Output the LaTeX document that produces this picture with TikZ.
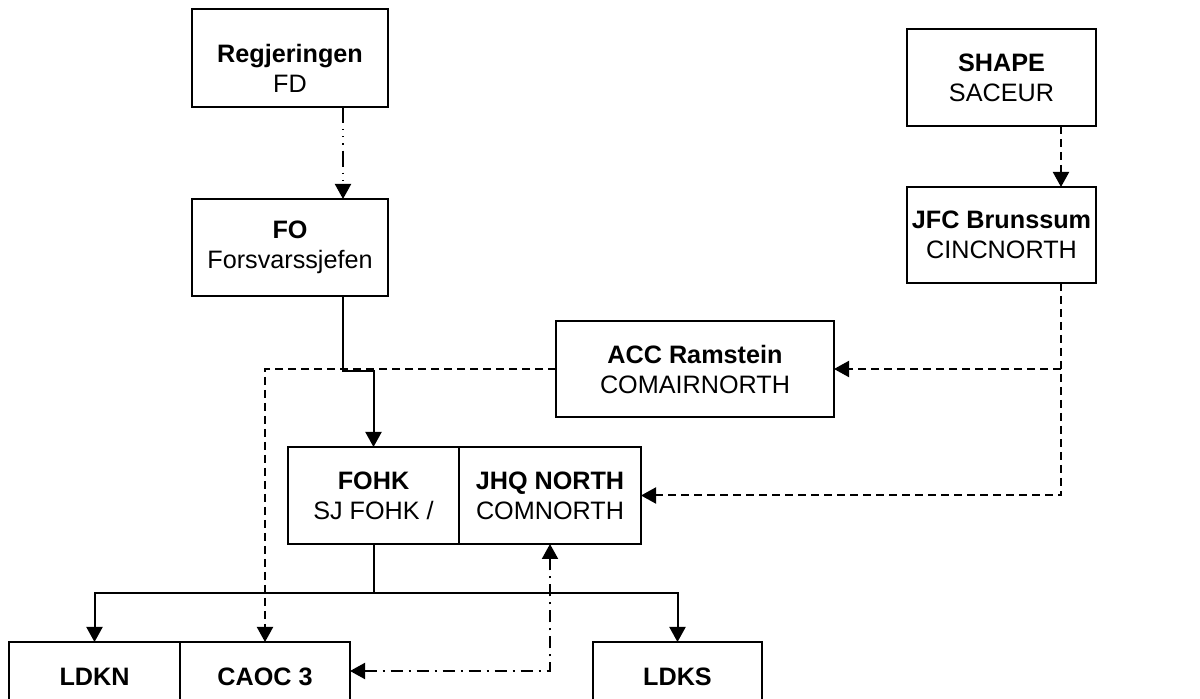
\documentclass[tikz,border=0pt]{standalone}
\usepackage{fontspec}
\setmainfont{Liberation Sans}
\usetikzlibrary{positioning}
\usetikzlibrary{arrows.meta}
\tikzset{
    x=0.5pt, y=-0.5pt, % One unit per pixel, y pointing down
    unit/.style={ % Sets the properties for each box of the chart
        draw,
        rectangle,
        line width=1pt,
        align=center,
        inner sep=0pt,
        outer sep=0pt % Neighbouring boxes share one border
    },
    >={Triangle[width=8pt,length=7.5pt]}, % Filled arrowheads
    cmdlink/.style={draw, line width=1pt, ->}, % Full command
    natolink/.style={cmdlink, dash pattern=on 4pt off 2.5pt}, % NATO line
    govlink/.style={cmdlink, dash pattern=on 8pt off 3pt on 0.6pt off 3pt on 0.6pt off 3pt on 0.6pt off 3pt},
    taclink/.style={cmdlink, <->, dash pattern=on 6pt off 3pt on 1pt off 3pt}
}

\begin{document}
\begin{tikzpicture}[font=\fontsize{12.6}{15}\selectfont]
    \useasboundingbox (0,0) rectangle (1200,699);

    \node[unit, minimum width=98pt, minimum height=49pt,
          label={[align=center, yshift=-5pt]center:\textbf{Regjeringen}\\FD}] (reg) at (290,58) {};
    \node[unit, minimum width=98pt, minimum height=48.5pt] (fo) at (290,247.5) {\textbf{FO}\\Forsvarssjefen};
    \node[unit, minimum width=94.5pt, minimum height=48.5pt] (shape) at (1001.5,77.5) {\textbf{SHAPE}\\SACEUR};
    \node[unit, minimum width=94.5pt, minimum height=48pt] (jfc) at (1001.5,235) {\textbf{JFC Brunssum}\\CINCNORTH};
    \node[unit, minimum width=139pt, minimum height=48pt] (acc) at (695,369) {\textbf{ACC Ramstein}\\COMAIRNORTH};
    \node[unit, minimum width=85.5pt, minimum height=48.5pt] (fohk) at (373.5,495.5) {\textbf{FOHK}\\SJ FOHK /};
    \node[unit, minimum width=91pt, minimum height=48.5pt, right=0pt of fohk] (jhq) {\textbf{JHQ NORTH}\\COMNORTH};
    \node[unit, minimum width=85.5pt, minimum height=35pt] (ldkn) at (94.5,677) {\textbf{LDKN}};
    \node[unit, minimum width=85pt, minimum height=35pt, right=0pt of ldkn] (caoc) {\textbf{CAOC 3}};
    \node[unit, minimum width=84.5pt, minimum height=35pt] (ldks) at (677.5,677) {\textbf{LDKS}};

    \coordinate (jfcdrop) at ([xshift=29.75pt]jfc.south);

    \draw[govlink] ([xshift=26.5pt]reg.south) -- ([xshift=26.5pt]fo.north);
    \draw[natolink] ([xshift=29.75pt]shape.south) -- ([xshift=29.75pt]jfc.north);
    \draw[cmdlink] ([xshift=26.5pt]fo.south) -- ++(0,75) -| (fohk.north);
    \draw[natolink] (acc.west) -| (caoc.north);
    \draw[natolink] (jfcdrop) |- (jhq.east);
    \draw[natolink] (acc.east -| jfcdrop) -- (acc.east);
    \draw[cmdlink] (fohk.south) -- ++(0,49) coordinate (split) -| (ldkn.north);
    \draw[cmdlink] (split) -| (ldks.north);
    \draw[taclink] ([yshift=3pt]caoc.east) -| (jhq.south);
\end{tikzpicture}
\end{document}
